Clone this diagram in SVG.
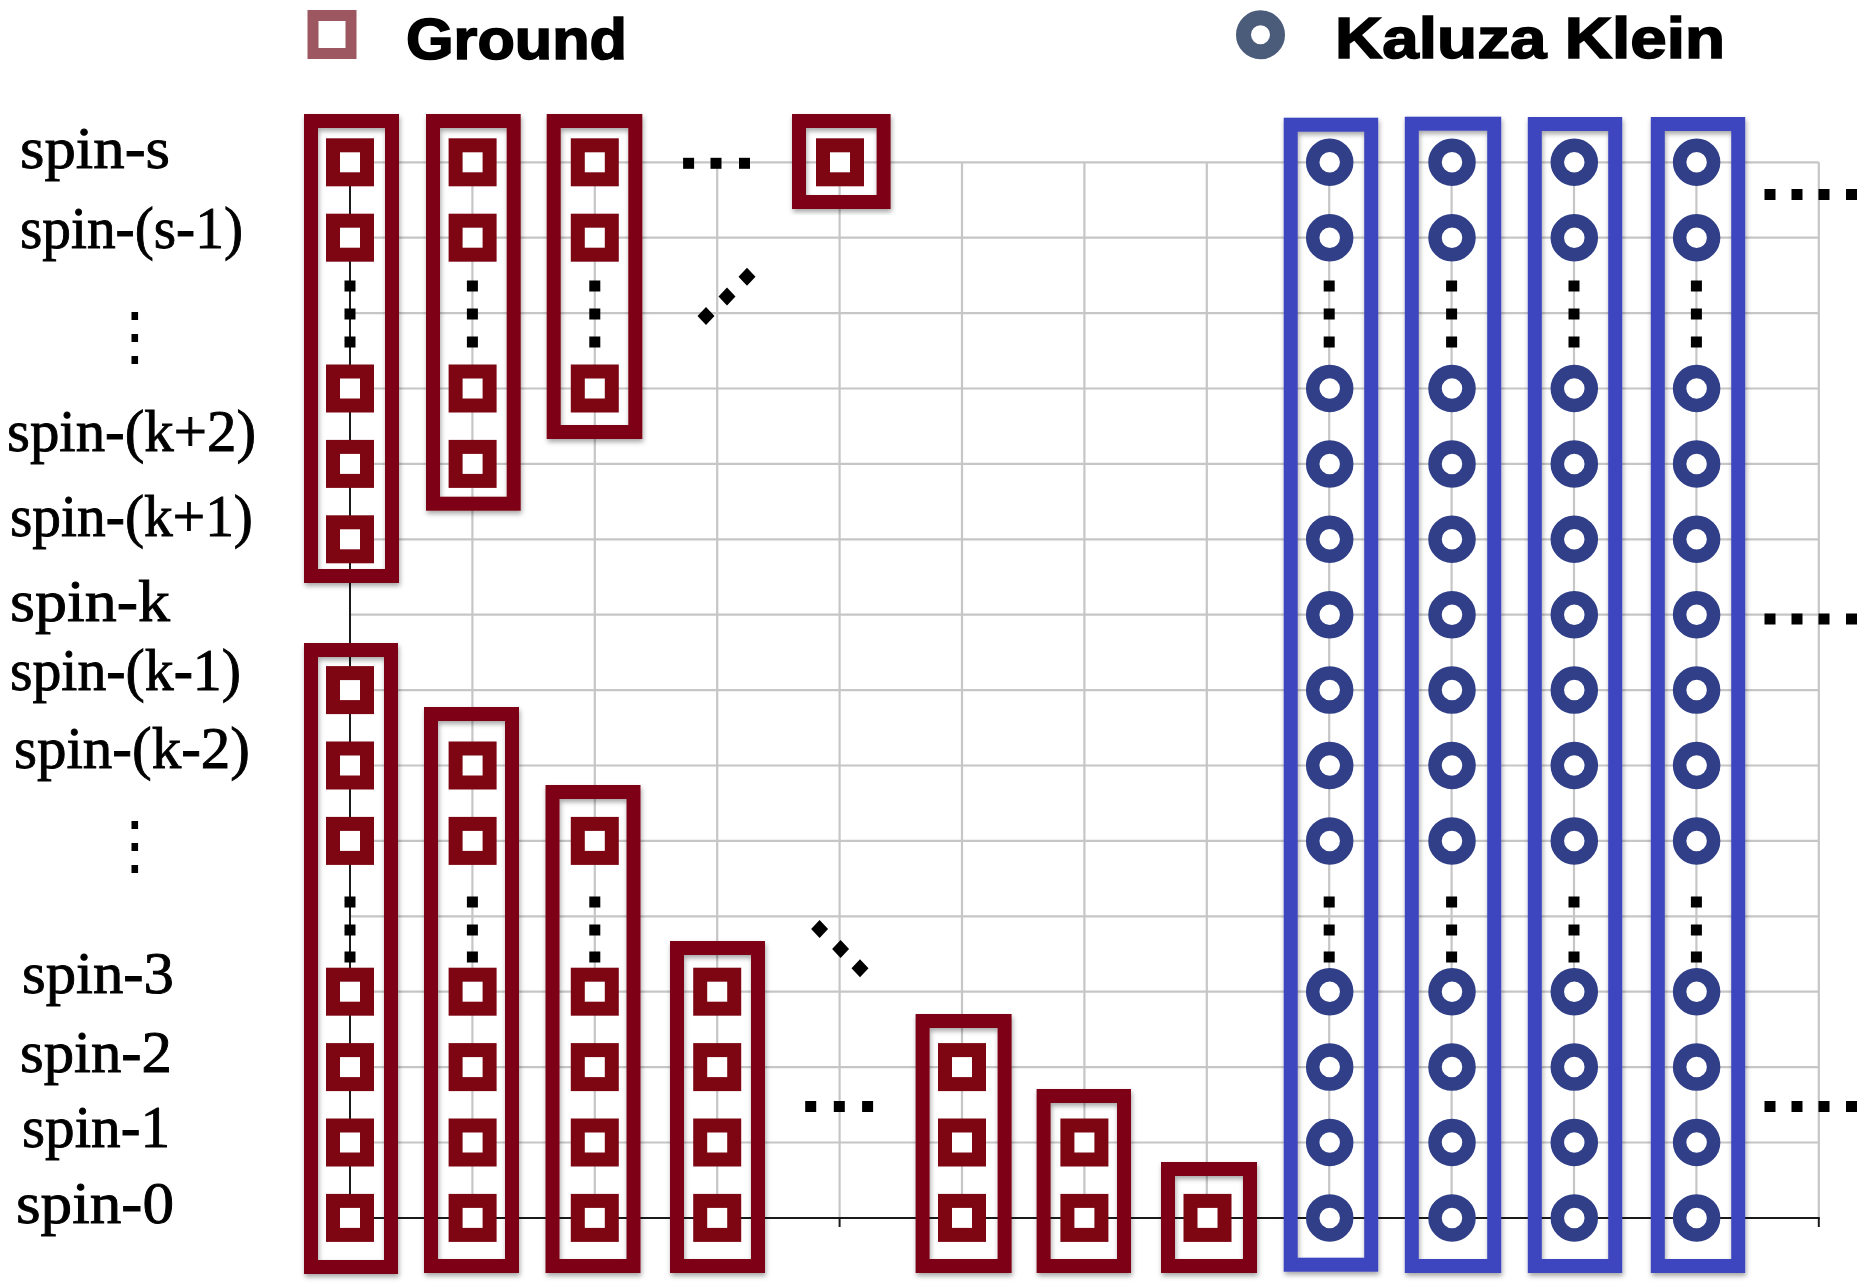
<svg xmlns="http://www.w3.org/2000/svg" xmlns:xlink="http://www.w3.org/1999/xlink" width="1872" height="1286" viewBox="0 0 1872 1286">
<style>
.grid line{stroke:#c6c6c6;stroke-width:2.2}
.axis line{stroke:#1a1a1a;stroke-width:2}
.gbox{fill:none;stroke:#7d0612;stroke-width:14;filter:url(#sh)}
.kbox{fill:none;stroke:#3e45bf;stroke-width:14;filter:url(#sh)}
.lbl{font-family:"Liberation Serif","Times New Roman",serif;font-size:60px;fill:#000;stroke:#000;stroke-width:0.9}
.vd{font-family:"DejaVu Sans",sans-serif;font-size:64px;fill:#000;text-anchor:middle}
.leg{font-family:"Liberation Sans",Arial,sans-serif;font-weight:bold;font-size:57px;fill:#000;stroke:#000;stroke-width:1.6}
</style>
<defs>
<filter id="sh" x="-30%" y="-10%" width="160%" height="125%"><feDropShadow dx="1" dy="3" stdDeviation="2.5" flood-color="#000" flood-opacity="0.35"/></filter>
<rect id="gm" x="-17" y="-17" width="34" height="34" fill="#fff" stroke="#7d0612" stroke-width="14"/>
<circle id="km" r="17" fill="#fff" stroke="#303f88" stroke-width="13.5"/>
<rect id="d" x="-5.5" y="-5.5" width="11" height="11" fill="#000"/>
<path id="dm" d="M0 -9 L8.5 0 L0 9 L-8.5 0Z" fill="#000"/>
</defs>
<rect width="1872" height="1286" fill="#fff"/>

<g id="legend">
<rect x="313" y="15.5" width="38" height="38" fill="#fff" stroke="#9c5760" stroke-width="11"/>
<text class="leg" x="406" y="59" textLength="221" lengthAdjust="spacingAndGlyphs">Ground</text>
<circle cx="1260.5" cy="34.7" r="17" fill="#fff" stroke="#4b5b7a" stroke-width="15"/>
<text class="leg" x="1335" y="58.3" textLength="390" lengthAdjust="spacingAndGlyphs">Kaluza Klein</text>
</g>

<g id="labels">
<text class="lbl" x="20" y="168" textLength="150" lengthAdjust="spacingAndGlyphs">spin-s</text>
<text class="lbl" x="20" y="248" textLength="223" lengthAdjust="spacingAndGlyphs">spin-(s-1)</text>
<text class="vd" x="135" y="358">⋮</text>
<text class="lbl" x="7" y="451" textLength="249" lengthAdjust="spacingAndGlyphs">spin-(k+2)</text>
<text class="lbl" x="10" y="536" textLength="243" lengthAdjust="spacingAndGlyphs">spin-(k+1)</text>
<text class="lbl" x="10" y="621" textLength="160" lengthAdjust="spacingAndGlyphs">spin-k</text>
<text class="lbl" x="10" y="690" textLength="231" lengthAdjust="spacingAndGlyphs">spin-(k-1)</text>
<text class="lbl" x="14" y="768" textLength="236" lengthAdjust="spacingAndGlyphs">spin-(k-2)</text>
<text class="vd" x="135" y="867">⋮</text>
<text class="lbl" x="22" y="993" textLength="152" lengthAdjust="spacingAndGlyphs">spin-3</text>
<text class="lbl" x="20" y="1072" textLength="152" lengthAdjust="spacingAndGlyphs">spin-2</text>
<text class="lbl" x="22" y="1147" textLength="148" lengthAdjust="spacingAndGlyphs">spin-1</text>
<text class="lbl" x="16" y="1223" textLength="158" lengthAdjust="spacingAndGlyphs">spin-0</text>
</g>

<g id="connectors">
<g class="grid">
<line x1="350" y1="162.3" x2="1818.8" y2="162.3"/>
<line x1="350" y1="237.7" x2="1818.8" y2="237.7"/>
<line x1="350" y1="313.1" x2="1818.8" y2="313.1"/>
<line x1="350" y1="388.5" x2="1818.8" y2="388.5"/>
<line x1="350" y1="463.9" x2="1818.8" y2="463.9"/>
<line x1="350" y1="539.3" x2="1818.8" y2="539.3"/>
<line x1="350" y1="614.7" x2="1818.8" y2="614.7"/>
<line x1="350" y1="690.1" x2="1818.8" y2="690.1"/>
<line x1="350" y1="765.5" x2="1818.8" y2="765.5"/>
<line x1="350" y1="840.9" x2="1818.8" y2="840.9"/>
<line x1="350" y1="916.3" x2="1818.8" y2="916.3"/>
<line x1="350" y1="991.7" x2="1818.8" y2="991.7"/>
<line x1="350" y1="1067.1" x2="1818.8" y2="1067.1"/>
<line x1="350" y1="1142.5" x2="1818.8" y2="1142.5"/>
<line x1="472.4" y1="162.3" x2="472.4" y2="1217.9"/>
<line x1="594.8" y1="162.3" x2="594.8" y2="1217.9"/>
<line x1="717.2" y1="162.3" x2="717.2" y2="1217.9"/>
<line x1="839.6" y1="162.3" x2="839.6" y2="1217.9"/>
<line x1="962" y1="162.3" x2="962" y2="1217.9"/>
<line x1="1084.4" y1="162.3" x2="1084.4" y2="1217.9"/>
<line x1="1206.8" y1="162.3" x2="1206.8" y2="1217.9"/>
<line x1="1329.2" y1="162.3" x2="1329.2" y2="1217.9"/>
<line x1="1451.6" y1="162.3" x2="1451.6" y2="1217.9"/>
<line x1="1574" y1="162.3" x2="1574" y2="1217.9"/>
<line x1="1696.4" y1="162.3" x2="1696.4" y2="1217.9"/>
<line x1="1818.8" y1="162.3" x2="1818.8" y2="1217.9"/>
</g>
<g class="axis">
<line x1="350" y1="162.3" x2="350" y2="1218"/>
<line x1="349" y1="1217.9" x2="1819.8" y2="1217.9"/>
<line x1="839.6" y1="1217.9" x2="839.6" y2="1227"/>
<line x1="1818.8" y1="1217.9" x2="1818.8" y2="1227"/>
</g>
<g id="ellipses">
<use href="#d" x="688.6" y="163.3"/><use href="#d" x="716" y="163.3"/><use href="#d" x="744.5" y="163.3"/>
<use href="#d" x="810.7" y="1106.5"/><use href="#d" x="839.3" y="1106.5"/><use href="#d" x="867.6" y="1106.5"/>
<use href="#dm" x="706" y="316"/><use href="#dm" x="727" y="296.5"/><use href="#dm" x="747" y="276.7"/>
<use href="#dm" x="819.6" y="929"/><use href="#dm" x="840.6" y="949"/><use href="#dm" x="860" y="968.3"/>
<use href="#d" x="1770" y="194.5"/><use href="#d" x="1797" y="194.5"/><use href="#d" x="1824" y="194.5"/><use href="#d" x="1851.5" y="194.5"/>
<use href="#d" x="1770" y="619"/><use href="#d" x="1797" y="619"/><use href="#d" x="1824" y="619"/><use href="#d" x="1851.5" y="619"/>
<use href="#d" x="1770" y="1106.5"/><use href="#d" x="1797" y="1106.5"/><use href="#d" x="1824" y="1106.5"/><use href="#d" x="1851.5" y="1106.5"/>
</g>
</g>

<g id="ground-top-0">
<use href="#d" x="350" y="286"/><use href="#d" x="350" y="314"/><use href="#d" x="350" y="342"/>
<use href="#gm" x="350" y="162.3"/><use href="#gm" x="350" y="237.7"/><use href="#gm" x="350" y="388.5"/><use href="#gm" x="350" y="463.9"/><use href="#gm" x="350" y="539.3"/>
<rect class="gbox" x="311" y="121" width="81" height="455"/>
</g>
<g id="ground-top-1">
<use href="#d" x="472.4" y="286"/><use href="#d" x="472.4" y="314"/><use href="#d" x="472.4" y="342"/>
<use href="#gm" x="472.6" y="162.3"/><use href="#gm" x="472.6" y="237.7"/><use href="#gm" x="472.6" y="388.5"/><use href="#gm" x="472.6" y="463.9"/>
<rect class="gbox" x="433" y="121" width="80.7" height="382.7"/>
</g>
<g id="ground-top-2">
<use href="#d" x="594.8" y="286"/><use href="#d" x="594.8" y="314"/><use href="#d" x="594.8" y="342"/>
<use href="#gm" x="594.8" y="162.3"/><use href="#gm" x="594.8" y="237.7"/><use href="#gm" x="594.8" y="388.5"/>
<rect class="gbox" x="553.7" y="121" width="81.6" height="311"/>
</g>
<g id="ground-top-4">
<use href="#gm" x="840" y="162.3"/>
<rect class="gbox" x="799" y="121" width="84.6" height="81"/>
</g>

<g id="ground-bot-0">
<use href="#d" x="350" y="902"/><use href="#d" x="350" y="930"/><use href="#d" x="350" y="957"/>
<use href="#gm" x="350" y="690.1"/><use href="#gm" x="350" y="765.5"/><use href="#gm" x="350" y="840.9"/><use href="#gm" x="350" y="991.7"/><use href="#gm" x="350" y="1067.1"/><use href="#gm" x="350" y="1142.5"/><use href="#gm" x="350" y="1217.9"/>
<rect class="gbox" x="311" y="650" width="80" height="617"/>
</g>
<g id="ground-bot-1">
<use href="#d" x="472.4" y="902"/><use href="#d" x="472.4" y="930"/><use href="#d" x="472.4" y="957"/>
<use href="#gm" x="472.6" y="765.5"/><use href="#gm" x="472.6" y="840.9"/><use href="#gm" x="472.6" y="991.7"/><use href="#gm" x="472.6" y="1067.1"/><use href="#gm" x="472.6" y="1142.5"/><use href="#gm" x="472.6" y="1217.9"/>
<rect class="gbox" x="431" y="714" width="81" height="552"/>
</g>
<g id="ground-bot-2">
<use href="#d" x="594.8" y="902"/><use href="#d" x="594.8" y="930"/><use href="#d" x="594.8" y="957"/>
<use href="#gm" x="594.8" y="840.9"/><use href="#gm" x="594.8" y="991.7"/><use href="#gm" x="594.8" y="1067.1"/><use href="#gm" x="594.8" y="1142.5"/><use href="#gm" x="594.8" y="1217.9"/>
<rect class="gbox" x="552.5" y="792" width="81" height="474"/>
</g>
<g id="ground-bot-3">
<use href="#gm" x="717.2" y="991.7"/><use href="#gm" x="717.2" y="1067.1"/><use href="#gm" x="717.2" y="1142.5"/><use href="#gm" x="717.2" y="1217.9"/>
<rect class="gbox" x="677" y="948" width="81" height="318"/>
</g>
<g id="ground-bot-5">
<use href="#gm" x="962" y="1067.1"/><use href="#gm" x="962" y="1142.5"/><use href="#gm" x="962" y="1217.9"/>
<rect class="gbox" x="922.6" y="1021" width="82" height="245"/>
</g>
<g id="ground-bot-6">
<use href="#gm" x="1084.4" y="1142.5"/><use href="#gm" x="1084.4" y="1217.9"/>
<rect class="gbox" x="1043.6" y="1096" width="80.4" height="170"/>
</g>
<g id="ground-bot-7">
<use href="#gm" x="1207.5" y="1217.9"/>
<rect class="gbox" x="1168" y="1169" width="82" height="97"/>
</g>

<g id="kk-1">
<use href="#d" x="1329.2" y="286"/><use href="#d" x="1329.2" y="314"/><use href="#d" x="1329.2" y="342"/>
<use href="#d" x="1329.2" y="902"/><use href="#d" x="1329.2" y="930"/><use href="#d" x="1329.2" y="957"/>
<use href="#km" x="1329.7" y="162.3"/><use href="#km" x="1329.7" y="237.7"/><use href="#km" x="1329.7" y="388.5"/><use href="#km" x="1329.7" y="463.9"/><use href="#km" x="1329.7" y="539.3"/><use href="#km" x="1329.7" y="614.7"/><use href="#km" x="1329.7" y="690.1"/><use href="#km" x="1329.7" y="765.5"/><use href="#km" x="1329.7" y="840.9"/><use href="#km" x="1329.7" y="991.7"/><use href="#km" x="1329.7" y="1067.1"/><use href="#km" x="1329.7" y="1142.5"/><use href="#km" x="1329.7" y="1217.9"/>
<rect class="kbox" x="1290.7" y="124.7" width="80.5" height="1140"/>
</g>
<g id="kk-2">
<use href="#d" x="1451.6" y="286"/><use href="#d" x="1451.6" y="314"/><use href="#d" x="1451.6" y="342"/>
<use href="#d" x="1451.6" y="902"/><use href="#d" x="1451.6" y="930"/><use href="#d" x="1451.6" y="957"/>
<use href="#km" x="1452" y="162.3"/><use href="#km" x="1452" y="237.7"/><use href="#km" x="1452" y="388.5"/><use href="#km" x="1452" y="463.9"/><use href="#km" x="1452" y="539.3"/><use href="#km" x="1452" y="614.7"/><use href="#km" x="1452" y="690.1"/><use href="#km" x="1452" y="765.5"/><use href="#km" x="1452" y="840.9"/><use href="#km" x="1452" y="991.7"/><use href="#km" x="1452" y="1067.1"/><use href="#km" x="1452" y="1142.5"/><use href="#km" x="1452" y="1217.9"/>
<rect class="kbox" x="1411.8" y="123.7" width="82.4" height="1142.3"/>
</g>
<g id="kk-3">
<use href="#d" x="1574" y="286"/><use href="#d" x="1574" y="314"/><use href="#d" x="1574" y="342"/>
<use href="#d" x="1574" y="902"/><use href="#d" x="1574" y="930"/><use href="#d" x="1574" y="957"/>
<use href="#km" x="1574.3" y="162.3"/><use href="#km" x="1574.3" y="237.7"/><use href="#km" x="1574.3" y="388.5"/><use href="#km" x="1574.3" y="463.9"/><use href="#km" x="1574.3" y="539.3"/><use href="#km" x="1574.3" y="614.7"/><use href="#km" x="1574.3" y="690.1"/><use href="#km" x="1574.3" y="765.5"/><use href="#km" x="1574.3" y="840.9"/><use href="#km" x="1574.3" y="991.7"/><use href="#km" x="1574.3" y="1067.1"/><use href="#km" x="1574.3" y="1142.5"/><use href="#km" x="1574.3" y="1217.9"/>
<rect class="kbox" x="1534.8" y="124" width="80.4" height="1142"/>
</g>
<g id="kk-4">
<use href="#d" x="1696.4" y="286"/><use href="#d" x="1696.4" y="314"/><use href="#d" x="1696.4" y="342"/>
<use href="#d" x="1696.4" y="902"/><use href="#d" x="1696.4" y="930"/><use href="#d" x="1696.4" y="957"/>
<use href="#km" x="1696.6" y="162.3"/><use href="#km" x="1696.6" y="237.7"/><use href="#km" x="1696.6" y="388.5"/><use href="#km" x="1696.6" y="463.9"/><use href="#km" x="1696.6" y="539.3"/><use href="#km" x="1696.6" y="614.7"/><use href="#km" x="1696.6" y="690.1"/><use href="#km" x="1696.6" y="765.5"/><use href="#km" x="1696.6" y="840.9"/><use href="#km" x="1696.6" y="991.7"/><use href="#km" x="1696.6" y="1067.1"/><use href="#km" x="1696.6" y="1142.5"/><use href="#km" x="1696.6" y="1217.9"/>
<rect class="kbox" x="1657.8" y="124" width="80.4" height="1142"/>
</g>
</svg>
